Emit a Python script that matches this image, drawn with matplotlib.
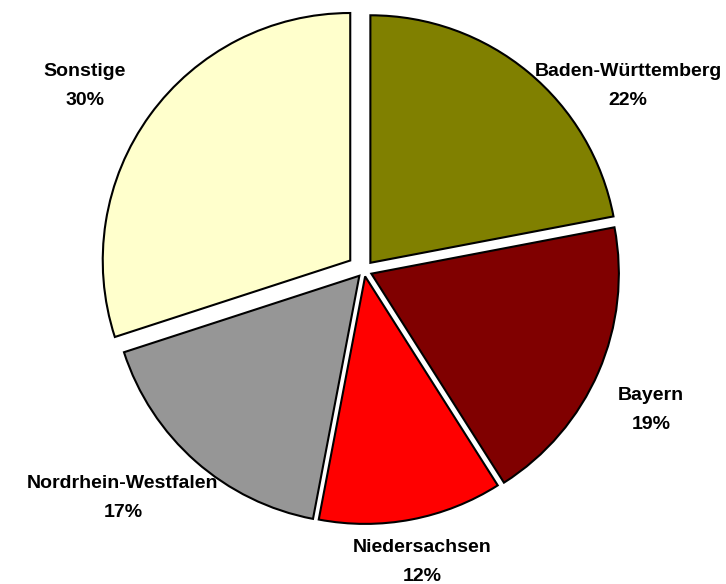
import matplotlib
matplotlib.use("Agg")
import matplotlib.pyplot as plt

categories = ["Baden-Württemberg", "Bayern", "Niedersachsen", "Nordrhein-Westfalen", "Sonstige"]
values = [22, 19, 12, 17, 30]
colors = ["#808000", "#800000", "#FF0000", "#969696", "#FFFFCC"]

W, H = 726, 584
R = 247.5
cx, cy = 364.0, 270.5
explode_px = [10, 8, 6, 7, 17]

fig = plt.figure(figsize=(W / 100, H / 100), dpi=100)
ax = fig.add_axes([0, 0, 1, 1])
ax.pie(values, colors=colors, startangle=90, counterclock=False,
       explode=[e / R for e in explode_px],
       wedgeprops=dict(edgecolor="black", linewidth=1.5))

ax.set_xlim(-cx / R, (W - cx) / R)
ax.set_ylim(-(H - cy) / R, cy / R)
ax.set_aspect("equal")
ax.axis("off")

# label centers in pixel coordinates
label_px = [(628, 86), (651, 410), (422, 562), (123, 498), (85, 86)]
for cat, v, (px, py) in zip(categories, values, label_px):
    ax.text((px - cx) / R, (cy - py) / R, f"{cat}\n{v}%", ha="center", va="center",
            fontsize=14, fontweight="bold", family=["Liberation Sans", "DejaVu Sans"],
            linespacing=1.85)

fig.savefig("out.png", dpi=100)
